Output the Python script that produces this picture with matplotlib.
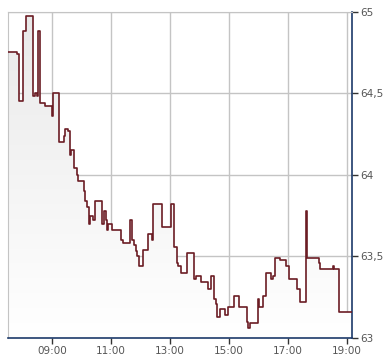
import numpy as np
import matplotlib
matplotlib.use("Agg")
import matplotlib.pyplot as plt

# step points: time (HH:MM) and price from that time on
times = ["07:30", "07:45", "07:49", "07:53", "08:01", "08:06", "08:20", "08:24",
         "08:30", "08:32", "08:36", "08:46", "09:00", "09:02", "09:13", "09:24",
         "09:27", "09:33", "09:37", "09:38", "09:45", "09:50", "09:53", "10:04",
         "10:07", "10:11", "10:15", "10:17", "10:23", "10:28", "10:42", "10:46",
         "10:50", "10:52", "10:54", "11:01", "11:20", "11:23", "11:39", "11:43",
         "11:47", "11:50", "11:53", "11:56", "12:04", "12:14", "12:23", "12:25",
         "12:44", "13:01", "13:08", "13:13", "13:16", "13:22", "13:35", "13:49",
         "13:52", "14:03", "14:17", "14:23", "14:30", "14:33", "14:36", "14:42",
         "14:52", "14:58", "15:10", "15:21", "15:37", "15:39", "15:43", "15:58",
         "16:00", "16:08", "16:15", "16:25", "16:29", "16:34", "16:44", "16:56",
         "17:01", "17:19", "17:24", "17:37", "17:39", "18:02", "18:04", "18:31",
         "18:33", "18:44", "19:10"]
prices = [64.75, 64.75, 64.74, 64.45, 64.88, 64.97, 64.48, 64.50,
          64.48, 64.88, 64.44, 64.42, 64.36, 64.50, 64.20, 64.24,
          64.28, 64.27, 64.12, 64.15, 64.04, 64.00, 63.96, 63.90,
          63.84, 63.80, 63.70, 63.75, 63.72, 63.84, 63.70, 63.78,
          63.72, 63.66, 63.70, 63.66, 63.60, 63.58, 63.72, 63.60,
          63.57, 63.53, 63.50, 63.44, 63.54, 63.64, 63.60, 63.82,
          63.68, 63.82, 63.56, 63.46, 63.44, 63.40, 63.52, 63.36,
          63.38, 63.34, 63.30, 63.38, 63.24, 63.21, 63.13, 63.18,
          63.14, 63.19, 63.26, 63.19, 63.10, 63.06, 63.09, 63.24,
          63.19, 63.26, 63.40, 63.36, 63.38, 63.49, 63.48, 63.44,
          63.36, 63.30, 63.22, 63.78, 63.49, 63.46, 63.42, 63.44,
          63.42, 63.16, 63.16]

tick_labels = ["09:00", "11:00", "13:00", "15:00", "17:00", "19:00"]
y_ticks = [63, 63.5, 64, 64.5, 65]
y_labels = ["63", "63,5", "64", "64,5", "65"]


def to_min(s):
    h, m = s.split(":")
    return int(h) * 60 + int(m)


x = np.array([to_min(t) for t in times])
y = np.array(prices)
xt = [to_min(t) for t in tick_labels]

fig = plt.figure(figsize=(3.9, 3.64), dpi=100)
ax = fig.add_axes([8 / 390, 26 / 364, 344 / 390, 326.5 / 364])

line_col = "#6b1c24"
grid_col = "#c4c4c4"
navy = "#1d3a6a"

# gradient fill under the step line
poly = ax.fill_between(x, y, 63, step="post", color="none", lw=0)
grad = np.linspace(0, 1, 256).reshape(-1, 1)
cmap = matplotlib.colors.LinearSegmentedColormap.from_list("g", ["#ffffff", "#e9e9e9"])
img = ax.imshow(grad, cmap=cmap, aspect="auto", origin="lower",
                extent=[x[0], x[-1], 63, 65], zorder=1)
img.set_clip_path(poly.get_paths()[0], transform=ax.transData)

ax.step(x, y, where="post", color=line_col, lw=1.2, zorder=3)

ax.set_xlim(450, 1150)
ax.set_ylim(63, 65)
ax.set_xticks(xt)
ax.set_xticklabels(tick_labels)
ax.set_yticks(y_ticks)
ax.set_yticklabels(y_labels)
ax.yaxis.tick_right()
ax.grid(True, color=grid_col, lw=1)
ax.set_axisbelow(True)

ax.tick_params(axis="both", length=4, width=1, color="#333333",
               labelsize=7.5, labelcolor="#555555", pad=2)

for side in ["left", "top"]:
    ax.spines[side].set_color(grid_col)
for side in ["bottom", "right"]:
    ax.spines[side].set_color(navy)
    ax.spines[side].set_linewidth(1.2)

plt.savefig("out.png", dpi=100)
